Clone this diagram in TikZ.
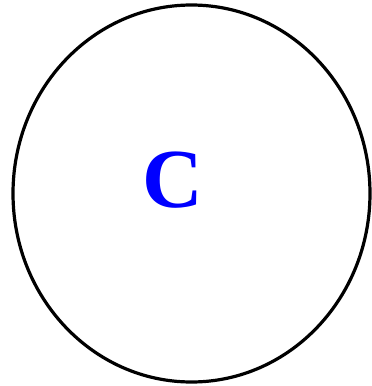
\documentclass[tikz,border=0pt]{standalone}
\usepackage{fontspec}
\setmainfont{Liberation Serif}
\usetikzlibrary{shapes.geometric}
\begin{document}
\begin{tikzpicture}[x=1pt,y=-1pt,
  ring/.style={ellipse,draw=black,line width=3.2pt,inner sep=0pt,minimum width=357pt,minimum height=377pt},
  letter/.style={text=blue,font=\bfseries\fontsize{84}{84}\selectfont,inner sep=0pt}]
\useasboundingbox (0,0) rectangle (372,386);
\node[ring] (circ) at (191.5,193.5) {};
\node[letter] (lbl) at (172.5,180) {C};
\end{tikzpicture}
\end{document}
